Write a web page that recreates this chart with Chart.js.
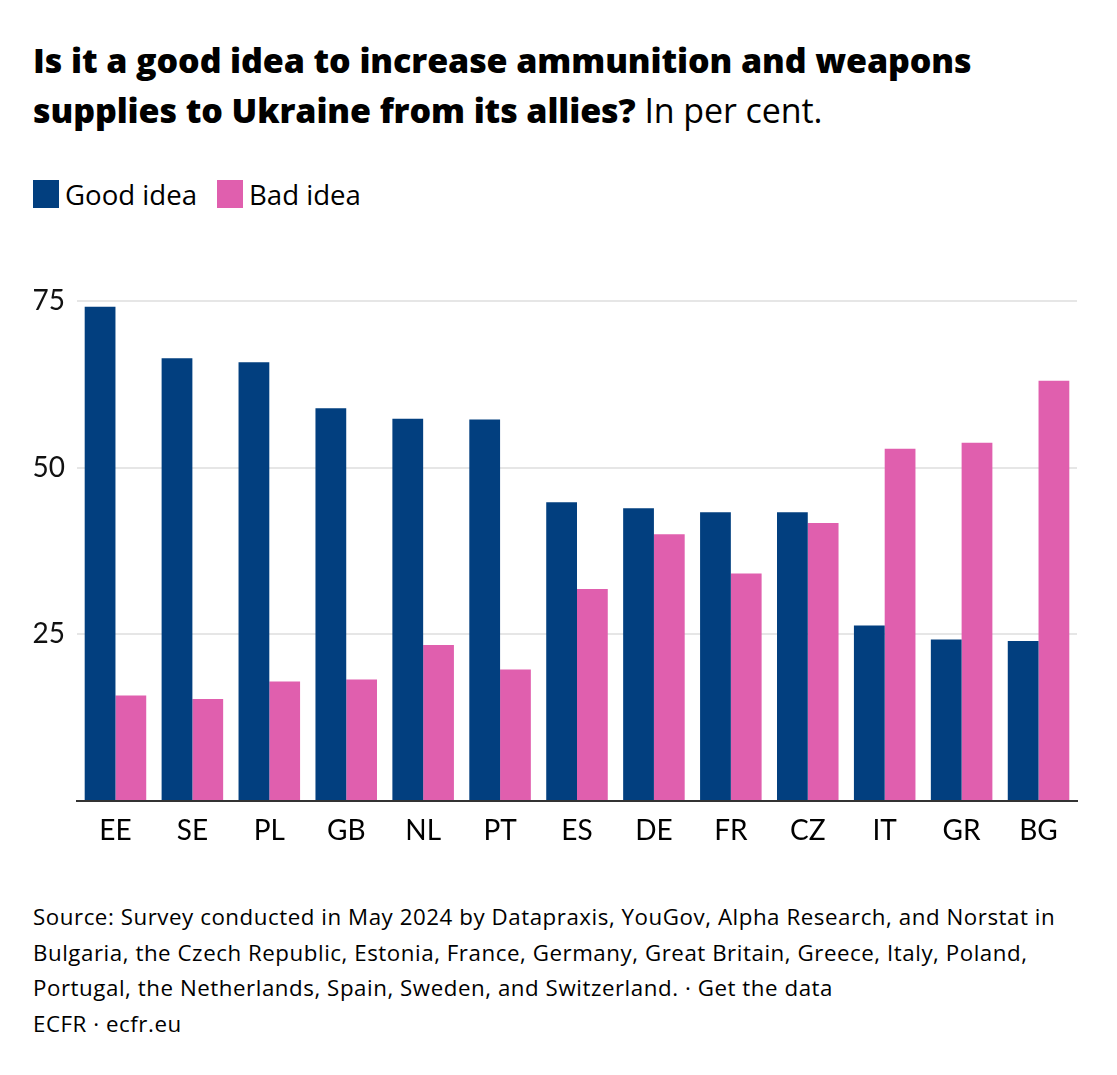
<!DOCTYPE html>
<html>
<head>
<meta charset="utf-8">
<script src="https://cdn.jsdelivr.net/npm/chart.js@4.4.1/dist/chart.umd.min.js"></script>
<style>
  body { margin: 0; background: #fff; font-family: "Open Sans", Lato, sans-serif; color: #000; }
  #page { position: relative; width: 1117px; height: 1075px; overflow: hidden; }
  #title { position: absolute; left: 33px; top: 35px; font-size: 34px; line-height: 50px; font-weight: 800; letter-spacing: -0.1px; }
  #title span { font-weight: 400; }
  #legend { position: absolute; left: 33px; top: 178px; display: flex; font-size: 27.6px; line-height: 32px; }
  #legend .item { display: flex; align-items: center; margin-right: 20px; }
  #legend .box { width: 26px; height: 28px; margin-right: 6px; }
  #chartBox { position: absolute; left: 0; top: 272px; width: 1117px; height: 608px; }
  #footer { position: absolute; left: 33px; top: 899px; font-size: 22.3px; line-height: 35.5px; letter-spacing: 0.55px; }
</style>
</head>
<body>
<div id="page">
  <div id="title">Is it a good idea to increase ammunition and weapons<br>supplies to Ukraine from its allies? <span>In per cent.</span></div>
  <div id="legend"></div>
  <div id="chartBox"><canvas id="chart"></canvas></div>
  <div id="footer">Source: Survey conducted in May 2024 by Datapraxis, YouGov, Alpha Research, and Norstat in<br>Bulgaria, the Czech Republic, Estonia, France, Germany, Great Britain, Greece, Italy, Poland,<br>Portugal, the Netherlands, Spain, Sweden, and Switzerland. · Get the data<br>ECFR · ecfr.eu</div>
</div>
<script>
const countries = ['EE', 'SE', 'PL', 'GB', 'NL', 'PT', 'ES', 'DE', 'FR', 'CZ', 'IT', 'GR', 'BG'];
const goodIdea = [74.1, 66.4, 65.8, 58.9, 57.3, 57.2, 44.8, 43.9, 43.3, 43.3, 26.3, 24.2, 24];
const badIdea = [15.8, 15.3, 17.9, 18.2, 23.4, 19.7, 31.8, 40, 34.1, 41.7, 52.8, 53.7, 63];
const yTicks = [0, 25, 50, 75];

const seriesNames = ['Good idea', 'Bad idea'];
const colors = ['#023f7f', '#e05fae'];

// legend in html
const legend = document.getElementById('legend');
seriesNames.forEach((name, i) => {
  legend.insertAdjacentHTML('beforeend',
    `<div class="item"><div class="box" style="background:${colors[i]}"></div>${name}</div>`);
});

const ctx = document.getElementById('chart').getContext('2d');
new Chart(ctx, {
  type: 'bar',
  data: {
    labels: countries,
    datasets: [
      { label: seriesNames[0], data: goodIdea, backgroundColor: colors[0] },
      { label: seriesNames[1], data: badIdea, backgroundColor: colors[1] }
    ]
  },
  options: {
    responsive: true,
    maintainAspectRatio: false,
    animation: false,
    categoryPercentage: 0.8,
    barPercentage: 1.0,
    layout: { padding: { top: 21, right: 40, bottom: 19, left: 0 } },
    plugins: { legend: { display: false }, tooltip: { enabled: false } },
    scales: {
      x: {
        grid: { display: false, drawTicks: false },
        border: { color: '#333', width: 2 },
        ticks: { color: '#000', font: { family: 'Lato', size: 28 }, padding: 13 },
        afterFit: scale => { scale.height = 60; }
      },
      y: {
        min: 0,
        max: 75,
        afterBuildTicks: scale => { scale.ticks = yTicks.map(v => ({ value: v })); },
        ticks: {
          color: '#111',
          font: { family: 'Lato', size: 28 },
          padding: 12,
          callback: v => v === 0 ? '' : v
        },
        grid: {
          drawTicks: false,
          lineWidth: 2,
          color: c => c.tick && c.tick.value === 0 ? 'rgba(0,0,0,0)' : '#e6e6e6'
        },
        border: { display: false },
        afterFit: scale => { scale.width = 77; }
      }
    }
  }
});
</script>
</body>
</html>
